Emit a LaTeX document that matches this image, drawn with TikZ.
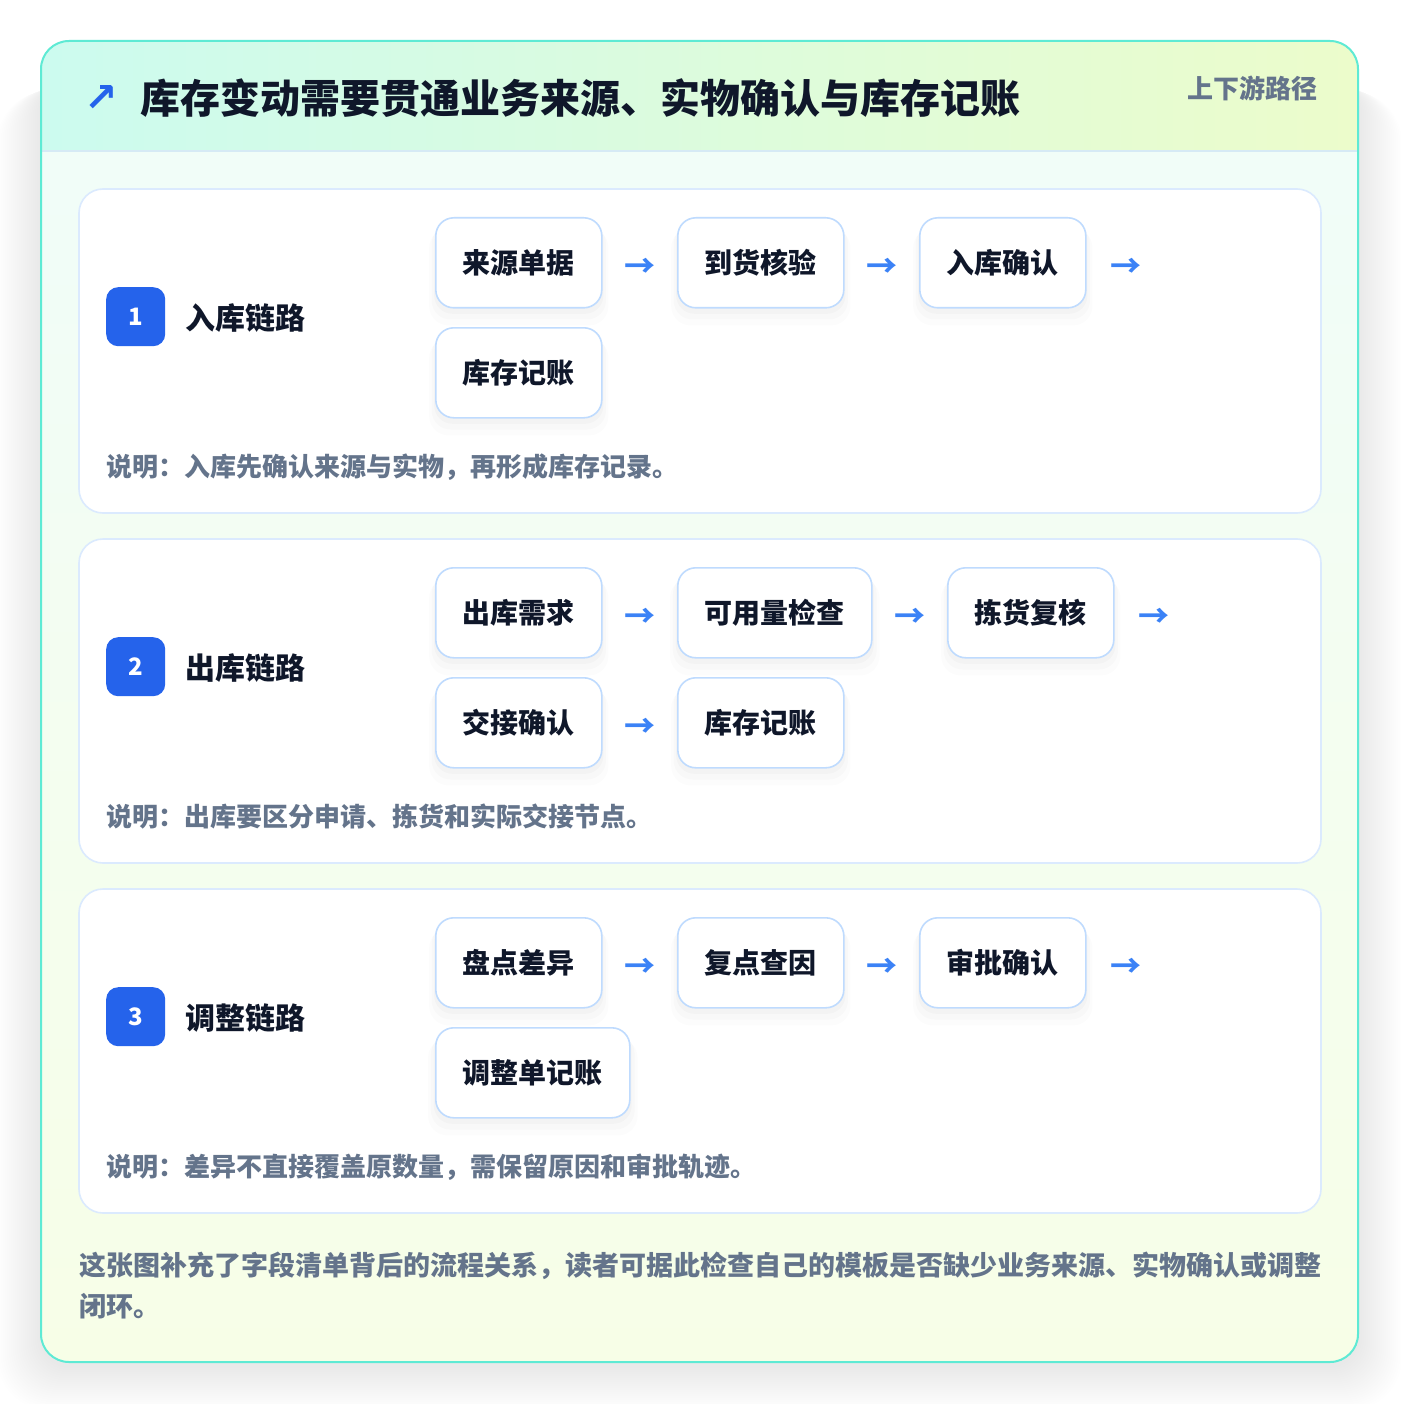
\documentclass[tikz,border=0pt]{standalone}
\usepackage{fontspec}
\setmainfont{Noto Sans CJK SC}
\newfontfamily\djv{DejaVu Sans}
\usetikzlibrary{shadows,calc}
\definecolor{ink}{HTML}{0F172A}
\definecolor{muted}{HTML}{64748B}
\definecolor{blueA}{HTML}{2563EB}
\definecolor{arrowC}{HTML}{3B82F6}
\definecolor{stepB}{HTML}{BFDBFE}
\definecolor{cardB}{HTML}{DBEAFE}
\definecolor{outerB}{HTML}{5EEAD4}
\definecolor{hdrL}{HTML}{CCFBEF}
\definecolor{hdrR}{HTML}{ECFCCB}
\definecolor{bodyT}{HTML}{F0FDFA}
\definecolor{bodyB}{HTML}{F7FEE7}
\definecolor{hdrLine}{HTML}{D6EAF5}
\tikzset{
  softshadow/.style={
    general shadow={shadow xshift=0pt, shadow yshift=-5pt, shadow scale=1.02, fill=black, opacity=0.018},
    general shadow={shadow xshift=0pt, shadow yshift=-9pt, shadow scale=1.05, fill=black, opacity=0.014},
    general shadow={shadow xshift=0pt, shadow yshift=-13pt, shadow scale=1.08, fill=black, opacity=0.010}},
  stepbox/.style={draw=stepB, line width=1.6pt, fill=white, rounded corners=18pt,
    minimum height=90pt, inner xsep=27pt, inner ysep=0pt,
    font=\fontsize{28}{28}\selectfont\bfseries, text=ink,
    text height=24.6pt, text depth=3.4pt, anchor=north west, softshadow},
  card/.style={draw=cardB, line width=1.6pt, fill=white, rounded corners=24pt},
  badge/.style={fill=blueA, rounded corners=12pt, minimum width=59pt, minimum height=59pt,
    inner sep=0pt, text=white, font=\fontsize{24}{24}\selectfont\bfseries, anchor=north west},
  lane/.style={anchor=west, inner sep=0pt, text=ink, font=\fontsize{30}{30}\selectfont\bfseries,
    text height=26.4pt, text depth=3.6pt},
  note/.style={anchor=west, inner sep=0pt, text=muted, font=\fontsize{26}{26}\selectfont\bfseries,
    text height=22.9pt, text depth=3.1pt},
  foot/.style={anchor=west, inner sep=0pt, text=muted, font=\fontsize{27}{27}\selectfont\bfseries,
    text height=23.8pt, text depth=3.2pt},
  arr/.style={inner sep=0pt, text=arrowC, font=\fontsize{31}{31}\selectfont\bfseries},
}
\begin{document}
\begin{tikzpicture}[x=1pt,y=-1pt]
\useasboundingbox (0,0) rectangle (1400,1404);
\fill[white] (0,0) rectangle (1400,1404);
% outer shadow (soft, wide)
\foreach \i in {1,...,22}{
  \fill[black,opacity=0.0036,rounded corners=30pt+\i] (41-2.0*\i,80+0.5*\i) rectangle (1358+2.0*\i,1366+2.0*\i);
}
% outer card
\path[rounded corners=28pt, top color=bodyT, bottom color=bodyB] (41,41) rectangle (1358,1362);
\begin{scope}
  \clip[rounded corners=28pt] (41,41) rectangle (1358,1362);
  \fill[left color=hdrL, right color=hdrR] (41,41) rectangle (1358,151);
  \draw[hdrLine, line width=1.6pt] (41,151) -- (1358,151);
\end{scope}
\draw[outerB, line width=2pt, rounded corners=28pt] (41,41) rectangle (1358,1362);
% header
\node[anchor=center, inner sep=0pt, text=blueA, font=\djv\fontsize{40}{40}\selectfont\bfseries] (icon) at (101,99) {↗};
\node[anchor=west, inner sep=0pt, text=ink, font=\fontsize{40}{40}\selectfont\bfseries, text height=35.2pt, text depth=4.8pt] (title) at (140,98) {库存变动需要贯通业务来源、实物确认与库存记账};
\node[anchor=east, inner sep=0pt, text=muted, font=\fontsize{26}{26}\selectfont\bfseries, text height=22.9pt, text depth=3.1pt] (tag) at (1318,89) {上下游路径};

% ---------- card 1
\draw[card] (79,189) rectangle (1321,513);
\node[badge] (b1) at (106,287) {1};
\node[lane] (l1) at (185,318) {入库链路};
\node[stepbox] (s11) at (435,217) {来源单据};
\node[stepbox] (s12) at (677,217) {到货核验};
\node[stepbox] (s13) at (919,217) {入库确认};
\node[stepbox] (s14) at (435,327) {库存记账};
\node[arr] (a11) at ($(s11.east)!0.5!(s12.west)+(0,5)$) {→};
\node[arr] (a12) at ($(s12.east)!0.5!(s13.west)+(0,5)$) {→};
\node[arr] (a13) at ($(s13.east)+(39,5)$) {→};
\node[note] (n1) at (106,467) {说明：入库先确认来源与实物，再形成库存记录。};

% ---------- card 2
\draw[card] (79,539) rectangle (1321,863);
\node[badge] (b2) at (106,637) {2};
\node[lane] (l2) at (185,668) {出库链路};
\node[stepbox] (s21) at (435,567) {出库需求};
\node[stepbox] (s22) at (677,567) {可用量检查};
\node[stepbox] (s23) at (947,567) {拣货复核};
\node[stepbox] (s24) at (435,677) {交接确认};
\node[stepbox] (s25) at (677,677) {库存记账};
\node[arr] (a21) at ($(s21.east)!0.5!(s22.west)+(0,5)$) {→};
\node[arr] (a22) at ($(s22.east)!0.5!(s23.west)+(0,5)$) {→};
\node[arr] (a23) at ($(s23.east)+(39,5)$) {→};
\node[arr] (a24) at ($(s24.east)!0.5!(s25.west)+(0,5)$) {→};
\node[note] (n2) at (106,817) {说明：出库要区分申请、拣货和实际交接节点。};

% ---------- card 3
\draw[card] (79,889) rectangle (1321,1213);
\node[badge] (b3) at (106,987) {3};
\node[lane] (l3) at (185,1018) {调整链路};
\node[stepbox] (s31) at (435,917) {盘点差异};
\node[stepbox] (s32) at (677,917) {复点查因};
\node[stepbox] (s33) at (919,917) {审批确认};
\node[stepbox] (s34) at (435,1027) {调整单记账};
\node[arr] (a31) at ($(s31.east)!0.5!(s32.west)+(0,5)$) {→};
\node[arr] (a32) at ($(s32.east)!0.5!(s33.west)+(0,5)$) {→};
\node[arr] (a33) at ($(s33.east)+(39,5)$) {→};
\node[note] (n3) at (106,1167) {说明：差异不直接覆盖原数量，需保留原因和审批轨迹。};

% footer
\node[foot] (f1) at (79,1265) {这张图补充了字段清单背后的流程关系，读者可据此检查自己的模板是否缺少业务来源、实物确认或调整};
\node[foot] (f2) at (79,1306) {闭环。};
\end{tikzpicture}
\end{document}
